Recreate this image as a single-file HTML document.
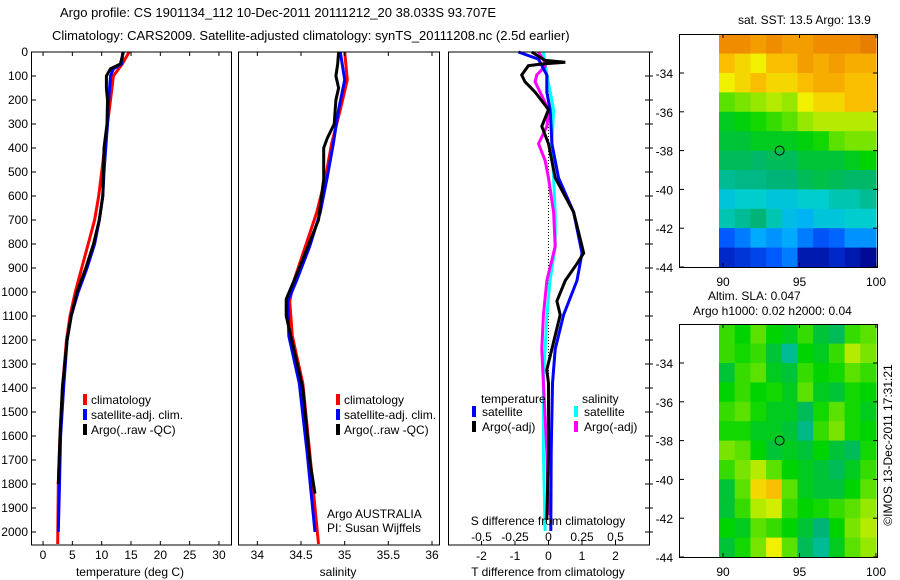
<!DOCTYPE html>
<html><head><meta charset="utf-8"><style>
body{margin:0;background:#fff;}
svg{display:block;font-family:"Liberation Sans",sans-serif;}
text{font-size:12px;fill:#000;}
</style></head><body>
<svg id="fig" width="900" height="580" viewBox="0 0 900 580">
<text x="60" y="17" style="font-size:13px">Argo profile: CS 1901134_112 10-Dec-2011 20111212_20 38.033S 93.707E</text>
<text x="52" y="40" style="font-size:13px">Climatology: CARS2009. Satellite-adjusted climatology: synTS_20111208.nc (2.5d earlier)</text>
<text x="738" y="24">sat. SST: 13.5 Argo: 13.9</text>
<text x="708" y="300">Altim. SLA: 0.047</text>
<text x="693" y="315">Argo h1000: 0.02 h2000: 0.04</text>
<text transform="translate(892,445) rotate(-90)" text-anchor="middle">©IMOS 13-Dec-2011 17:31:21</text>
<g id="g"></g>
</svg>
<script>
// ---- data ----
const tClimDepth=[0,50,100,200,300,500,600,700,800,900,1000,1100,1200,1400,1600,1800,2050];
const tClim=[14.7,13.5,12.0,11.5,11.0,10.0,9.5,8.8,7.7,6.6,5.5,4.6,4.0,3.3,2.9,2.6,2.5];
const tSatDepth=[0,50,70,100,200,300,500,600,700,800,900,1000,1100,1200,1400,1600,1800,2000];
const tSat=[13.6,13.4,12.0,11.5,11.2,11.0,10.4,10.2,9.6,8.8,7.5,6.0,4.8,4.1,3.5,3.0,2.8,2.6];
const tArgoDepth=[0,50,70,100,150,200,300,400,500,600,700,800,900,1000,1100,1200,1400,1600,1800];
const tArgo=[13.7,13.2,11.5,10.8,10.8,11.0,10.9,10.4,10.3,10.2,9.6,8.6,7.3,5.8,4.8,4.1,3.3,2.9,2.6];
const sClimDepth=[0,116,240,382,523,669,810,952,1038,1183,1381,1668,2050];
const sClim=[35.0,35.03,34.95,34.85,34.78,34.68,34.55,34.42,34.37,34.4,34.52,34.6,34.7];
const sSatDepth=[0,116,240,382,523,669,810,952,1038,1183,1381,1668,2000];
const sSat=[34.95,35.0,34.93,34.87,34.8,34.72,34.6,34.45,34.35,34.36,34.48,34.57,34.66];
const sArgoDepth=[0,50,100,150,200,300,360,400,530,700,900,1030,1100,1400,1700,1840];
const sArgo=[34.93,34.92,34.9,34.93,34.9,34.88,34.8,34.76,34.76,34.7,34.48,34.33,34.33,34.52,34.6,34.66];
const dTDepth=[0,30,96,167,240,382,524,667,838,952,1095,1238,1381,1667,1996];
const dTSat=[-0.9,-0.3,-0.05,-0.05,0.05,0.1,0.3,0.75,1.0,0.85,0.45,0.2,0.12,0.08,0.07];
const dTArgoDepth=[0,35,43,50,57,96,124,167,240,310,382,524,667,838,882,952,1038,1095,1210,1324,1381,1667,1950];
const dTArgo=[-0.5,-0.1,0.5,-0.2,-0.6,-0.8,-0.7,-0.4,0.0,-0.2,0.0,0.2,0.75,1.05,0.85,0.5,0.25,0.35,0.15,-0.05,0.0,0.0,-0.05];
const dSDepth=[0,96,240,382,524,667,810,952,1095,1381,1667,1996];
const dSSat=[-0.038,-0.012,0.038,0.025,0.038,0.05,0.05,0.012,-0.012,-0.038,-0.038,-0.025];
const dSArgoDepth=[0,40,60,96,124,240,310,382,452,524,667,810,952,1095,1238,1381,1667,1930];
const dSArgo=[-0.075,-0.03,-0.025,-0.088,-0.1,0.0,-0.012,-0.075,-0.025,0.0,0.038,0.05,-0.012,-0.038,-0.05,-0.038,-0.012,0.0];
const depthTicks=[0,100,200,300,400,500,600,700,800,900,1000,1100,1200,1300,1400,1500,1600,1700,1800,1900,2000];
const tTicks=[0,5,10,15,20,25,30];
const sTicks=[34,34.5,35,35.5,36];
const sTickLabels=["34","34.5","35","35.5","36"];
const dTTicks=[-2,-1,0,1,2];
const dSTicks=[-0.5,-0.25,0,0.25,0.5];
const latTicks=[-34,-36,-38,-40,-42,-44];
const lonTicks=[90,95,100];
const sstGrid=[
[0.80,0.80,0.78,0.80,0.78,0.78,0.80,0.80,0.80,0.82],
[0.74,0.72,0.70,0.74,0.74,0.78,0.76,0.78,0.76,0.76],
[0.70,0.72,0.74,0.72,0.72,0.74,0.76,0.76,0.74,0.74],
[0.60,0.62,0.64,0.66,0.64,0.70,0.72,0.72,0.74,0.74],
[0.52,0.54,0.56,0.58,0.60,0.64,0.66,0.66,0.66,0.66],
[0.50,0.50,0.52,0.52,0.52,0.54,0.56,0.60,0.62,0.62],
[0.48,0.48,0.47,0.48,0.48,0.50,0.50,0.50,0.52,0.55],
[0.44,0.45,0.45,0.46,0.46,0.48,0.49,0.48,0.47,0.47],
[0.38,0.40,0.40,0.38,0.38,0.40,0.40,0.42,0.42,0.44],
[0.42,0.44,0.46,0.42,0.36,0.34,0.38,0.38,0.40,0.40],
[0.25,0.28,0.32,0.30,0.32,0.28,0.24,0.26,0.30,0.30],
[0.18,0.20,0.22,0.25,0.28,0.15,0.15,0.18,0.15,0.12]];
const slaGrid=[
[0.58,0.55,0.60,0.55,0.52,0.58,0.50,0.48,0.58,0.60],
[0.58,0.56,0.58,0.50,0.44,0.55,0.52,0.58,0.66,0.62],
[0.50,0.58,0.60,0.52,0.50,0.58,0.55,0.56,0.60,0.58],
[0.55,0.58,0.55,0.56,0.52,0.60,0.52,0.50,0.56,0.55],
[0.58,0.60,0.56,0.52,0.52,0.48,0.56,0.60,0.56,0.52],
[0.56,0.56,0.52,0.52,0.50,0.45,0.58,0.62,0.56,0.55],
[0.62,0.60,0.55,0.50,0.52,0.50,0.55,0.50,0.48,0.56],
[0.58,0.62,0.66,0.60,0.55,0.52,0.50,0.48,0.52,0.58],
[0.50,0.60,0.72,0.74,0.60,0.52,0.50,0.50,0.55,0.60],
[0.50,0.58,0.66,0.68,0.58,0.55,0.56,0.58,0.60,0.64],
[0.55,0.52,0.60,0.58,0.55,0.50,0.46,0.55,0.62,0.66],
[0.50,0.56,0.62,0.70,0.60,0.48,0.44,0.52,0.60,0.64]];
const argoLon=93.7, argoLat=-38.0;

// ---- drawing ----
const NS="http://www.w3.org/2000/svg";
const G=document.getElementById('g');
function el(tag,attrs,parent){const e=document.createElementNS(NS,tag);for(const k in attrs)e.setAttribute(k,attrs[k]);(parent||G).appendChild(e);return e;}
function txt(x,y,s,anchor,size){const t=el('text',{x:x,y:y,'text-anchor':anchor||'start'});if(size)t.style.fontSize=size+'px';t.textContent=s;return t;}
const Y0=52,YB=545;
const yD=d=>Y0+d*0.24;
const lin=(d0,d1,r0,r1)=>v=>r0+(v-d0)/(d1-d0)*(r1-r0);
const xT=lin(-2,32,31.3,230.7);
const xS=lin(33.79,36.08,239,439);
const xDT=lin(-3,3,448,649);
const xDS=v=>xDT(v*4);
function line(xs,ds,xf,color,name){
  const p=el('polyline',{points:xs.map((v,i)=>xf(v).toFixed(1)+','+yD(ds[i]).toFixed(1)).join(' '),fill:'none',stroke:color,'stroke-width':3});
  
  
}
function box(x0,x1,y0,y1,name){const r=el('rect',{x:x0,y:y0,width:x1-x0,height:y1-y0,fill:'none',stroke:'#000','stroke-width':1});}
// panel 1
line(tClim,tClimDepth,xT,'#f00','temp-climatology-line');
line(tSat,tSatDepth,xT,'#00f','temp-satellite-line');
line(tArgo,tArgoDepth,xT,'#000','temp-argo-line');
box(31.5,231.5,Y0,YB,'temperature-axes');
depthTicks.forEach(d=>{el('line',{x1:32,x2:36,y1:yD(d),y2:yD(d),stroke:'#000'});const t=txt(28,yD(d)+4,String(d),'end');});
tTicks.forEach(v=>{el('line',{x1:xT(v),x2:xT(v),y1:YB,y2:YB-4,stroke:'#000'});el('line',{x1:xT(v),x2:xT(v),y1:Y0,y2:Y0+4,stroke:'#000'});const t=txt(xT(v),559,String(v),'middle');});
txt(130,576,'temperature (deg C)','middle');
// panel 2
line(sClim,sClimDepth,xS,'#f00','sal-climatology-line');
line(sSat,sSatDepth,xS,'#00f','sal-satellite-line');
line(sArgo,sArgoDepth,xS,'#000','sal-argo-line');
box(238.5,439.5,Y0,YB,'salinity-axes');
sTicks.forEach((v,i)=>{el('line',{x1:xS(v),x2:xS(v),y1:YB,y2:YB-4,stroke:'#000'});el('line',{x1:xS(v),x2:xS(v),y1:Y0,y2:Y0+4,stroke:'#000'});const t=txt(xS(v),559,sTickLabels[i],'middle');});
txt(338,576,'salinity','middle');
txt(327,518,'Argo AUSTRALIA');
txt(327,532,'PI: Susan Wijffels');
// legends
function legend(x,y,items,name){const g=el('g',{});
 items.forEach((it,i)=>{el('rect',{x:x,y:y+i*15-10,width:4,height:11,fill:it[1]},g);const t=el('text',{x:x+8,y:y+i*15},g);t.textContent=it[0];});}
legend(83,404,[['climatology','#f00'],['satellite-adj. clim.','#00f'],['Argo(..raw -QC)','#000']],'temperature-legend');
legend(336,404,[['climatology','#f00'],['satellite-adj. clim.','#00f'],['Argo(..raw -QC)','#000']],'salinity-legend');
// panel 3
el('line',{x1:xDT(0),x2:xDT(0),y1:yD(100),y2:yD(1500),stroke:'#000','stroke-dasharray':'1,2'});
line(dSSat,dSDepth,xDS,'#0ff','sal-diff-satellite-line');
line(dSArgo,dSArgoDepth,xDS,'#f0f','sal-diff-argo-line');
line(dTSat,dTDepth,xDT,'#00f','temp-diff-satellite-line');
line(dTArgo,dTArgoDepth,xDT,'#000','temp-diff-argo-line');
box(448.5,649.5,Y0,YB,'difference-axes');
depthTicks.forEach(d=>{el('line',{x1:649,x2:645,y1:yD(d),y2:yD(d),stroke:'#000'});el('line',{x1:649,x2:653,y1:yD(d),y2:yD(d),stroke:'#000'});});
dTTicks.forEach(v=>{el('line',{x1:xDT(v),x2:xDT(v),y1:YB,y2:YB-4,stroke:'#000'});const t=txt(xDT(v),560,String(v),'middle');});
dSTicks.forEach(v=>{const t=txt(xDS(v),541,String(v),'middle');});
txt(548,525,'S difference from climatology','middle');
txt(548,576,'T difference from climatology','middle');
{const g=el('g',{});
 const a=el('text',{x:481,y:403},g);a.textContent='temperature';
 const b=el('text',{x:582,y:403},g);b.textContent='salinity';
 [['satellite','#00f',472,416],['Argo(-adj)','#000',472,431],['satellite','#0ff',574,416],['Argo(-adj)','#f0f',574,431]].forEach(it=>{el('rect',{x:it[2],y:it[3]-10,width:4,height:11,fill:it[1]},g);const t=el('text',{x:it[2]+10,y:it[3]},g);t.textContent=it[0];});}
// colormap
const cmStops=[[0.10,[0,0,130]],[0.18,[0,40,200]],[0.25,[0,90,255]],[0.32,[0,170,255]],[0.40,[0,205,205]],[0.46,[0,180,120]],[0.51,[0,200,40]],[0.55,[0,212,0]],[0.60,[90,225,0]],[0.66,[180,235,0]],[0.70,[240,240,0]],[0.74,[250,190,0]],[0.80,[240,140,0]],[0.86,[210,100,0]]];
function cmap(v){
 if(v<=cmStops[0][0])return 'rgb('+cmStops[0][1].join(',')+')';
 for(let i=1;i<cmStops.length;i++){if(v<=cmStops[i][0]){const a=cmStops[i-1],b=cmStops[i];const f=(v-a[0])/(b[0]-a[0]);return 'rgb('+a[1].map((c,k)=>Math.round(c+(b[1][k]-c)*f)).join(',')+')';}}
 return 'rgb('+cmStops[cmStops.length-1][1].join(',')+')';
}
function map(grid,y0,name){
 const xL=lon=>723+(lon-90)*15.3;const yL=lat=>(y0+39)+(-34-lat)*19.4;
 const g=el('g',{});
 const nr=grid.length,nc=grid[0].length;const lon0=89.74,lon1=100,lat0=-32,lat1=-44;
 grid.forEach((row,i)=>row.forEach((v,j)=>{
  const xa=xL(lon0+(lon1-lon0)*j/nc),xb=xL(lon0+(lon1-lon0)*(j+1)/nc);
  const ya=yL(lat0+(lat1-lat0)*i/nr),yb=yL(lat0+(lat1-lat0)*(i+1)/nr);
  const r=el('rect',{x:xa.toFixed(1),y:ya.toFixed(1),width:(xb-xa+0.6).toFixed(1),height:(yb-ya+0.6).toFixed(1),fill:cmap(v)},g);
  
  
 }));
 el('rect',{x:679.5,y:y0+0.5,width:198,height:yL(-44)-y0,fill:'none',stroke:'#000'},g);
 latTicks.forEach(l=>{el('line',{x1:680,x2:684,y1:yL(l),y2:yL(l),stroke:'#000'},g);el('line',{x1:877,x2:873,y1:yL(l),y2:yL(l),stroke:'#000'},g);const t=el('text',{x:673,y:yL(l)+5,'text-anchor':'end'},g);t.textContent=String(l);});
 lonTicks.forEach(l=>{el('line',{x1:xL(l),x2:xL(l),y1:yL(-44),y2:yL(-44)-4,stroke:'#000'},g);el('line',{x1:xL(l),x2:xL(l),y1:y0,y2:y0+4,stroke:'#000'},g);const t=el('text',{x:xL(l),y:yL(-44)+19,'text-anchor':'middle'},g);t.textContent=String(l);});
 const c=el('circle',{cx:xL(argoLon),cy:yL(argoLat),r:4.5,fill:'none',stroke:'#000'},g);
 
 
}
map(sstGrid,34,'sst-map');
map(slaGrid,324,'sla-map');
</script>
</body></html>
